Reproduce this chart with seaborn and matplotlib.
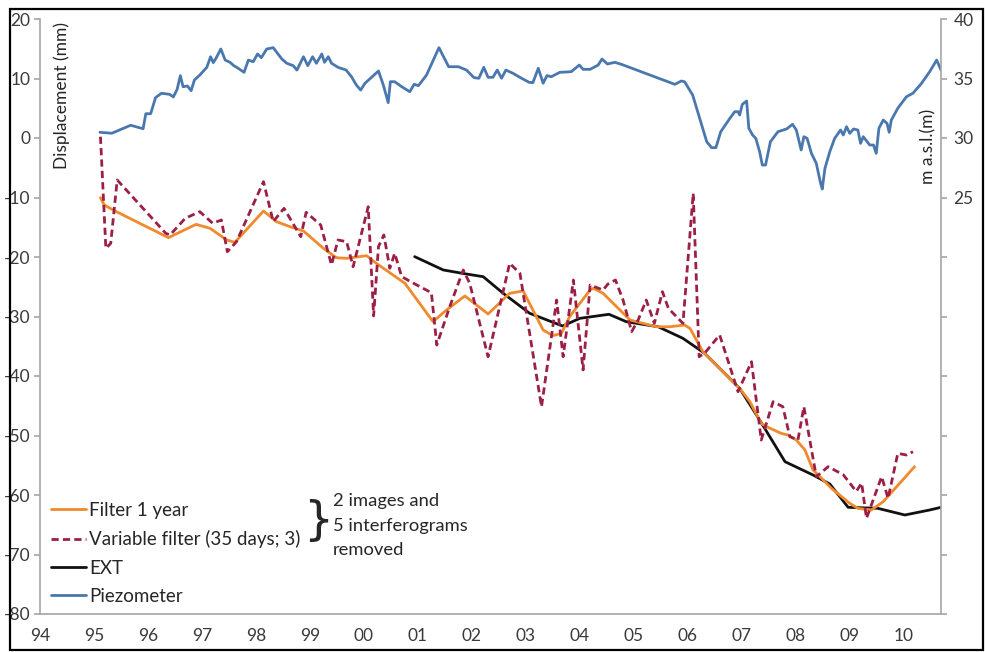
import matplotlib
matplotlib.use("Agg")
import matplotlib.pyplot as plt
import seaborn as sns
import pandas as pd
from matplotlib.patches import Rectangle
from matplotlib.lines import Line2D
from matplotlib.ticker import FixedLocator, FuncFormatter

# ---------------- data ----------------
piezo_year = [
    1995.11, 1995.33, 1995.68, 1995.91, 1995.96, 1996.05, 1996.14, 1996.25, 1996.40, 1996.47,
    1996.54, 1996.60, 1996.65, 1996.73, 1996.80, 1996.86, 1996.96, 1997.09, 1997.16, 1997.21,
    1997.26, 1997.35, 1997.43, 1997.52, 1997.59, 1997.67, 1997.78, 1997.86, 1997.95, 1998.03,
    1998.10, 1998.20, 1998.32, 1998.48, 1998.57, 1998.69, 1998.76, 1998.88, 1998.96, 1999.05,
    1999.12, 1999.22, 1999.27, 1999.34, 1999.40, 1999.52, 1999.67, 1999.77, 1999.86, 1999.94,
    2000.02, 2000.27, 2000.36, 2000.45, 2000.49, 2000.57, 2000.70, 2000.85, 2000.93, 2001.01,
    2001.16, 2001.39, 2001.57, 2001.75, 2001.90, 2002.04, 2002.13, 2002.22, 2002.30, 2002.39,
    2002.47, 2002.55, 2002.63, 2002.76, 2002.92, 2003.06, 2003.13, 2003.23, 2003.32, 2003.39,
    2003.47, 2003.63, 2003.84, 2003.99, 2004.06, 2004.19, 2004.34, 2004.41, 2004.51, 2004.65,
    2004.77, 2005.76, 2005.88, 2005.94, 2006.09, 2006.21, 2006.35, 2006.44, 2006.52, 2006.61,
    2006.78, 2006.87, 2006.93, 2006.96, 2007.01, 2007.09, 2007.13, 2007.20, 2007.26, 2007.33,
    2007.38, 2007.44, 2007.53, 2007.67, 2007.83, 2007.94, 2008.01, 2008.10, 2008.15, 2008.21,
    2008.29, 2008.38, 2008.46, 2008.49, 2008.54, 2008.63, 2008.72, 2008.83, 2008.88, 2008.94,
    2009.00, 2009.07, 2009.15, 2009.20, 2009.25, 2009.37, 2009.44, 2009.49, 2009.54, 2009.62,
    2009.69, 2009.73, 2009.77, 2009.89, 2010.05, 2010.17, 2010.33, 2010.48, 2010.61, 2010.69,
]
piezo_masl = [
    30.48, 30.40, 31.07, 30.78, 32.04, 32.04, 33.39, 33.76, 33.67, 33.45,
    34.09, 35.24, 34.31, 34.37, 33.98, 34.87, 35.29, 35.94, 36.83, 36.33,
    36.70, 37.48, 36.55, 36.36, 36.08, 35.86, 35.52, 36.55, 36.41, 37.06,
    36.75, 37.48, 37.59, 36.64, 36.28, 36.08, 35.71, 36.83, 36.08, 36.83,
    36.28, 37.06, 36.36, 36.83, 36.28, 35.94, 35.71, 35.15, 34.45, 34.03,
    34.60, 35.63, 34.45, 32.97, 34.73, 34.73, 34.31, 33.89, 34.51, 34.40,
    35.29, 37.59, 35.99, 35.99, 35.71, 35.07, 35.02, 35.94, 35.10, 35.10,
    35.71, 35.02, 35.71, 35.44, 35.02, 34.68, 34.65, 35.86, 34.60, 35.24,
    35.15, 35.52, 35.57, 36.13, 35.77, 35.77, 36.13, 36.64, 36.22, 36.36,
    36.19, 34.51, 34.79, 34.73, 33.61, 31.79, 29.69, 29.19, 29.19, 30.53,
    31.66, 32.21, 32.21, 31.93, 32.83, 33.11, 30.82, 30.25, 29.97, 28.85,
    27.73, 27.73, 29.69, 30.53, 30.76, 31.15, 30.67, 28.99, 30.11, 29.97,
    28.71, 27.87, 26.19, 25.71, 27.45, 28.85, 29.97, 30.67, 30.25, 30.95,
    30.39, 30.76, 30.67, 29.55, 30.11, 29.41, 29.41, 28.71, 30.82, 31.51,
    31.23, 30.48, 31.51, 32.50, 33.47, 33.76, 34.60, 35.57, 36.55, 35.71,
]

filter1y_year = [
    1995.12, 1995.19, 1995.39, 1996.38, 1996.89, 1997.15, 1997.46, 1997.61, 1998.14, 1998.38,
    1998.63, 1998.88, 1999.25, 1999.49, 1999.68, 2000.05, 2000.23, 2000.76, 2001.28, 2001.53,
    2001.87, 2002.30, 2002.70, 2002.95, 2003.32, 2003.50, 2003.66, 2003.81, 2004.19, 2004.25,
    2004.43, 2004.93, 2005.17, 2005.42, 2005.67, 2005.94, 2006.04, 2006.28, 2006.96, 2007.15,
    2007.36, 2007.46, 2007.73, 2007.86, 2008.01, 2008.17, 2008.32, 2008.51, 2008.66, 2009.00,
    2009.15, 2009.40, 2009.62, 2010.20,
]
filter1y_mm = [
    -10.03, -11.26, -12.27, -16.75, -14.51, -15.18, -17.14, -17.53, -12.27, -14.06,
    -14.90, -15.63, -18.54, -20.12, -20.22, -19.78, -21.06, -24.42, -30.87, -28.91,
    -26.55, -29.58, -26.10, -25.71, -32.27, -33.22, -32.83, -30.03, -25.55, -25.27,
    -26.10, -30.59, -31.15, -31.72, -31.72, -31.43, -32.00, -35.92, -42.07, -44.32,
    -47.96, -48.52, -49.64, -49.92, -50.76, -52.44, -55.80, -57.48, -58.88, -61.40,
    -62.24, -62.52, -61.12, -55.24,
]

varfilter_year = [
    1995.12, 1995.22, 1995.31, 1995.43, 1996.33, 1996.41, 1996.69, 1996.96, 1997.20, 1997.36,
    1997.47, 1997.64, 1998.14, 1998.32, 1998.52, 1998.83, 1998.93, 1999.20, 1999.40, 1999.52,
    1999.68, 1999.80, 2000.08, 2000.18, 2000.27, 2000.37, 2000.48, 2000.57, 2000.70, 2000.98,
    2001.25, 2001.35, 2001.59, 2001.84, 2001.96, 2002.30, 2002.70, 2002.89, 2003.29, 2003.57,
    2003.69, 2003.88, 2004.06, 2004.19, 2004.43, 2004.52, 2004.66, 2004.80, 2004.96, 2005.08,
    2005.23, 2005.38, 2005.53, 2005.64, 2005.91, 2006.10, 2006.21, 2006.31, 2006.59, 2006.93,
    2007.18, 2007.36, 2007.58, 2007.76, 2007.89, 2008.04, 2008.15, 2008.38, 2008.60, 2008.88,
    2009.12, 2009.22, 2009.31, 2009.59, 2009.71, 2009.89, 2010.05, 2010.17,
]
varfilter_mm = [
    0.22, -18.54, -17.70, -7.06, -16.02, -16.30, -13.50, -12.38, -14.34, -13.78,
    -19.11, -17.43, -7.34, -14.06, -11.82, -16.58, -12.49, -14.62, -21.34, -17.14,
    -17.43, -21.63, -11.55, -29.90, -18.26, -16.30, -21.90, -19.38, -23.31, -24.71,
    -26.00, -34.79, -28.35, -22.18, -24.42, -36.76, -21.06, -22.74, -45.16, -27.23,
    -36.76, -23.87, -38.99, -24.71, -25.55, -24.54, -23.87, -27.23, -32.55, -30.59,
    -27.23, -31.15, -25.83, -28.63, -31.15, -9.30, -36.76, -36.18, -33.11, -42.64,
    -37.60, -50.76, -44.32, -45.16, -50.20, -50.76, -45.16, -56.92, -55.24, -56.60,
    -59.40, -58.00, -63.92, -56.92, -60.55, -53.00, -53.28, -52.72,
]

ext_year = [
    2000.94, 2001.47, 2001.90, 2002.21, 2002.58, 2003.07, 2003.68, 2004.00, 2004.54, 2004.86,
    2005.05, 2005.45, 2005.91, 2006.31, 2006.96, 2007.33, 2007.80, 2008.32, 2008.63, 2008.97,
    2009.52, 2010.02, 2010.48, 2010.69,
]
ext_mm = [
    -19.94, -22.18, -22.86, -23.31, -26.10, -29.46, -31.60, -30.31, -29.63, -30.87,
    -31.15, -31.72, -33.67, -36.18, -42.07, -47.39, -54.40, -56.64, -58.15, -62.07,
    -62.24, -63.36, -62.52, -62.07,
]

year_ticks = list(range(1994, 2011))
left_ticks = list(range(-80, 21, 10))
right_ticks = list(range(-10, 41, 5))
right_labelled = [25, 30, 35, 40]

labels = ["Filter 1 year", "Variable filter (35 days; 3)", "EXT", "Piezometer"]
note_lines = ["2 images and", "5 interferograms", "removed"]

# ---------------- style ----------------
sns.set_style("white")
plt.rcParams["font.family"] = ["Lato", "DejaVu Sans"]
plt.rcParams["axes.unicode_minus"] = False

C_ORANGE = "#F08A2C"
C_MAROON = "#9C1F45"
C_BLACK = "#111111"
C_BLUE = "#4A78AE"
C_GRAY = "#A6A6A6"
C_TXT = "#3A3A3A"

W, H = 985, 652
fig = plt.figure(figsize=(W / 100, H / 100), dpi=100)
fig.patch.set_facecolor("white")
ax = fig.add_axes([40 / W, (H - 614) / H, 901 / W, 595 / H])
ax2 = ax.twinx()

df_f = pd.DataFrame({"year": filter1y_year, "mm": filter1y_mm})
df_v = pd.DataFrame({"year": varfilter_year, "mm": varfilter_mm})
df_e = pd.DataFrame({"year": ext_year, "mm": ext_mm})
df_p = pd.DataFrame({"year": piezo_year, "m": piezo_masl})

lw = 2.0
dash = (0, (2.6, 1.5))
sns.lineplot(data=df_e, x="year", y="mm", ax=ax, color=C_BLACK, lw=lw, sort=False, zorder=3)
sns.lineplot(data=df_f, x="year", y="mm", ax=ax, color=C_ORANGE, lw=lw, sort=False, zorder=4)
sns.lineplot(data=df_v, x="year", y="mm", ax=ax, color=C_MAROON, lw=lw, sort=False, zorder=5,
             linestyle=dash)
sns.lineplot(data=df_p, x="year", y="m", ax=ax2, color=C_BLUE, lw=lw, sort=False)

ax.set_xlim(1994, 2010.69)
ax.set_ylim(-80, 20)
ax2.set_ylim(-10, 40)

for a in (ax, ax2):
    a.set_xlabel("")
    a.set_ylabel("")
    a.spines["top"].set_visible(False)
    for s in a.spines.values():
        s.set_color(C_GRAY)
        s.set_linewidth(1.2)

ax.spines["right"].set_visible(False)
ax2.spines["left"].set_visible(False)
ax2.spines["bottom"].set_visible(False)

ax.xaxis.set_major_locator(FixedLocator(year_ticks))
ax.xaxis.set_major_formatter(FuncFormatter(lambda v, p: f"{int(round(v)) % 100:02d}"))
ax.yaxis.set_major_locator(FixedLocator(left_ticks))
ax2.yaxis.set_major_locator(FixedLocator(right_ticks))
ax2.yaxis.set_major_formatter(FuncFormatter(
    lambda v, p: f"{int(round(v))}" if int(round(v)) in right_labelled else ""))

ax.tick_params(axis="both", which="major", direction="out", length=4, width=1.2,
               color=C_GRAY, labelcolor=C_TXT, labelsize=12.5, pad=3)
ax.tick_params(axis="x", pad=6)
ax2.tick_params(axis="y", which="major", direction="out", length=4, width=1.2,
                color=C_GRAY, labelcolor=C_TXT, labelsize=12.5, pad=5)
ax.grid(False)
ax2.grid(False)

# axis titles (placed inside the plot area, as in the reference)
fig.text(62 / W, 1 - 22 / H, "Displacement (mm)", rotation=90, va="top", ha="center",
         fontsize=12.5, color="#262626")
fig.text(928 / W, 1 - 146 / H, "m a.s.l.(m)", rotation=90, va="center", ha="center",
         fontsize=12.5, color="#262626")

# legend
handles = [
    Line2D([], [], color=C_ORANGE, lw=lw),
    Line2D([], [], color=C_MAROON, lw=lw, linestyle=dash),
    Line2D([], [], color=C_BLACK, lw=lw),
    Line2D([], [], color=C_BLUE, lw=lw),
]
leg = ax.legend(handles, labels, loc="upper left", bbox_to_anchor=(51 / W, 1 - 502 / H),
                bbox_transform=fig.transFigure, frameon=False, fontsize=13.5,
                handlelength=1.85, handletextpad=0.2, labelspacing=0.6, borderpad=0,
                borderaxespad=0)
for t in leg.get_texts():
    t.set_color("#262626")

# brace and note
fig.text(318 / W, 1 - 521 / H, "}", fontsize=34, va="center", ha="center", color="#262626",
         family="DejaVu Sans")
for i, line in enumerate(note_lines):
    fig.text(333 / W, 1 - (506 + 24.5 * i) / H, line, fontsize=13.2, va="baseline",
             ha="left", color="#262626")

# outer frame
fig.patches.append(Rectangle((10 / W, 2 / H), 973 / W, 641 / H, transform=fig.transFigure,
                             fill=False, edgecolor="black", lw=1.6, zorder=10))

fig.savefig("out.png", dpi=100, facecolor="white")
